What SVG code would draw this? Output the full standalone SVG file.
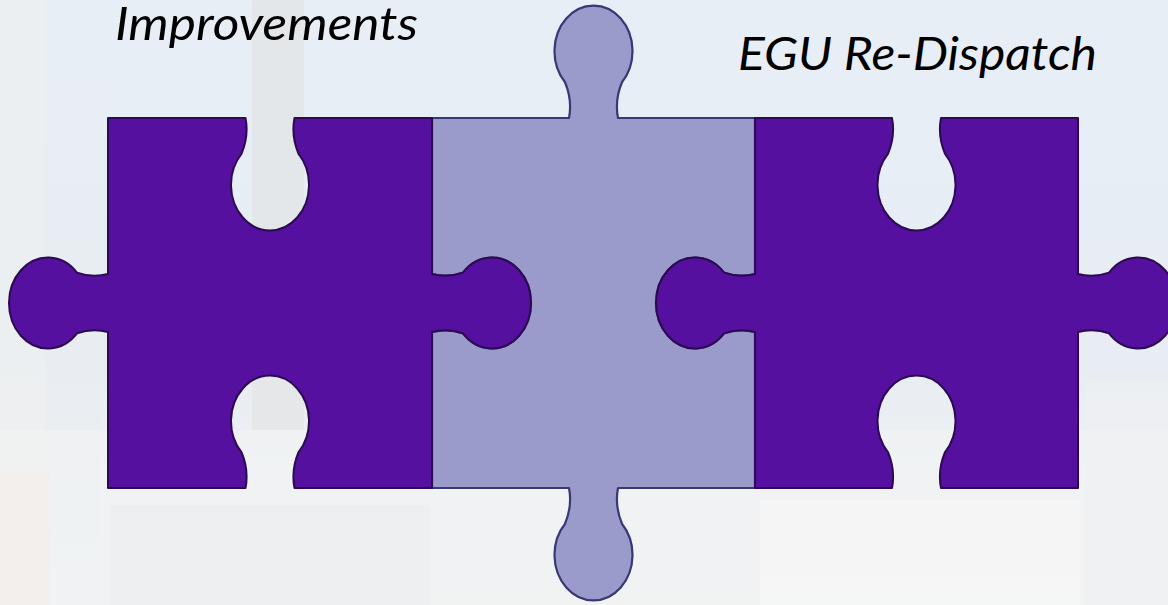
<svg xmlns="http://www.w3.org/2000/svg" width="1168" height="605" viewBox="0 0 1168 605">
  <defs>
    <linearGradient id="sky" x1="0" y1="0" x2="0" y2="1">
      <stop offset="0" stop-color="#E7EEF6"/>
      <stop offset="0.6" stop-color="#E8EDF3"/>
      <stop offset="0.8" stop-color="#EEF0F2"/>
      <stop offset="1" stop-color="#F1F2F2"/>
    </linearGradient>
    <style>
      .dark { fill: #55109F; stroke: #2B0A52; stroke-width: 2; stroke-linejoin: round; }
      .light { fill: #9A9ACB; stroke: #383876; stroke-width: 2.2; stroke-linejoin: round; }
      .label { font-family: Lato, "Open Sans", "Liberation Sans", sans-serif; font-style: italic; font-size: 46px; fill: #000000; }
      .bg { stroke: none; }
    </style>
  </defs>

  <g id="background">
    <rect class="bg" x="0" y="0" width="1168" height="605" fill="url(#sky)"/>
    <rect class="bg" x="0" y="0" width="45" height="605" fill="#EEEFF0" opacity="0.7"/>
    <rect class="bg" x="45" y="90" width="55" height="515" fill="#E9EDF1" opacity="0.5"/>
    <rect class="bg" x="252" y="0" width="52" height="430" fill="#E3E4E6" opacity="0.7"/>
    <rect class="bg" x="0" y="430" width="1168" height="175" fill="#F2F3F3" opacity="0.6"/>
    <rect class="bg" x="0" y="470" width="50" height="135" fill="#F3ECE8" opacity="0.6"/>
    <rect class="bg" x="110" y="505" width="320" height="100" fill="#ECECEE" opacity="0.5"/>
    <rect class="bg" x="760" y="500" width="320" height="105" fill="#F6F7F6" opacity="0.7"/>
    <rect class="bg" x="1085" y="380" width="83" height="225" fill="#EEF0F1" opacity="0.6"/>
  </g>

  <g id="label-improvements">
    <text class="label" x="115" y="40" textLength="303" lengthAdjust="spacingAndGlyphs">Improvements</text>
  </g>
  <g id="label-egu">
    <text class="label" x="738" y="70" textLength="359" lengthAdjust="spacingAndGlyphs">EGU Re-Dispatch</text>
  </g>

  <g id="piece-middle">
    <path class="light" d="M 432 118 H 569 Q 572.5 100 564.9 82 A 39 45.5 0 1 1 622.1 82 Q 614.5 100 618 118 H 755 V 274 Q 739 278 724 272.6 A 39 45.5 0 1 0 724 333.4 Q 739 328 755 332 V 488 H 618 Q 614.5 506 622.1 524 A 39 45.5 0 1 1 564.9 524 Q 572.5 506 569 488 H 432 V 332 Q 448 328 463 333.4 A 39 45.5 0 1 0 463 272.6 Q 448 278 432 274 Z"/>
  </g>

  <g id="piece-left">
    <path class="dark" d="M 108 118 H 245.5 Q 249 136 241.4 154 A 39 45.5 0 1 0 298.6 154 Q 291 136 294.5 118 H 432 V 274 Q 448 278 463 272.6 A 39 45.5 0 1 1 463 333.4 Q 448 328 432 332 V 488 H 294.5 Q 291 470 298.6 452 A 39 45.5 0 1 0 241.4 452 Q 249 470 245.5 488 H 108 V 332 Q 92 328 77 333.4 A 39 45.5 0 1 1 77 272.6 Q 92 278 108 274 Z"/>
  </g>

  <g id="piece-right">
    <path class="dark" d="M 755 118 H 892 Q 895.5 136 887.9 154 A 39 45.5 0 1 0 945.1 154 Q 937.5 136 941 118 H 1078 V 274 Q 1094 278 1109 272.6 A 39 45.5 0 1 1 1109 333.4 Q 1094 328 1078 332 V 488 H 941 Q 937.5 470 945.1 452 A 39 45.5 0 1 0 887.9 452 Q 895.5 470 892 488 H 755 V 332 Q 739 328 724 333.4 A 39 45.5 0 1 1 724 272.6 Q 739 278 755 274 Z"/>
  </g>

  <g id="connectors"></g>
</svg>
